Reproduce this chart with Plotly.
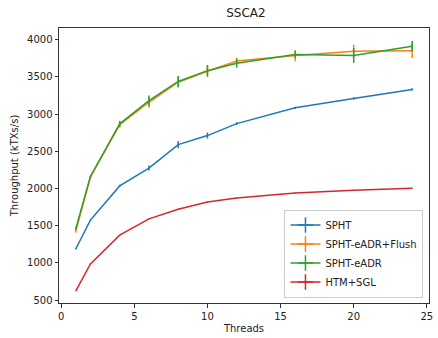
import plotly.graph_objects as go

threads = [1, 2, 4, 6, 8, 10, 12, 16, 20, 24]

spht = [1190, 1575, 2035, 2275, 2590, 2712, 2873, 3085, 3212, 3332]
spht_err = [10, 10, 15, 33, 50, 40, 20, 15, 15, 15]

spht_flush = [1428, 2158, 2860, 3160, 3430, 3578, 3715, 3788, 3845, 3854]
spht_flush_err = [20, 15, 40, 70, 70, 75, 45, 75, 90, 100]

spht_eadr = [1462, 2162, 2870, 3182, 3440, 3585, 3685, 3802, 3790, 3915]
spht_eadr_err = [15, 15, 40, 70, 75, 77, 60, 45, 100, 70]

htm_sgl = [622, 985, 1372, 1592, 1722, 1818, 1872, 1940, 1976, 2005]
htm_sgl_err = [5, 5, 5, 5, 5, 5, 5, 5, 5, 5]

series = [
    ("SPHT", spht, spht_err, "#1f77b4"),
    ("SPHT-eADR+Flush", spht_flush, spht_flush_err, "#ff7f0e"),
    ("SPHT-eADR", spht_eadr, spht_eadr_err, "#2ca02c"),
    ("HTM+SGL", htm_sgl, htm_sgl_err, "#d62728"),
]

FONT = "DejaVu Sans"
fig = go.Figure()

for name, ys, errs, color in series:
    fig.add_trace(go.Scatter(
        x=threads, y=ys, mode="lines", name=name, showlegend=False,
        line=dict(color=color, width=1.5),
        error_y=dict(type="data", array=errs, visible=True,
                     color=color, thickness=1.5, width=0),
    ))

# legend entries: line with a vertical error tick through it
for name, ys, errs, color in series:
    fig.add_trace(go.Scatter(
        x=[None], y=[None], mode="lines+markers", name=name,
        line=dict(color=color, width=1.5),
        marker=dict(symbol="cross-thin", size=11, color=color,
                    line=dict(color=color, width=1.5)),
    ))

axis_common = dict(
    showline=True, linecolor="#333333", linewidth=1, mirror=True,
    ticks="outside", ticklen=3.5, tickwidth=1, tickcolor="#333333",
    showgrid=False, zeroline=False,
    tickfont=dict(family=FONT, size=10, color="#222222"),
)

fig.update_layout(
    width=438, height=338,
    margin=dict(l=59, r=5, t=28, b=31),
    paper_bgcolor="white", plot_bgcolor="white",
    title=dict(text="SSCA2", x=0.5615, xanchor="center", y=0.962, yanchor="middle",
               font=dict(family=FONT, size=12, color="#222222")),
    xaxis=dict(range=[-0.15, 25.15], tickvals=[0, 5, 10, 15, 20, 25],
               title=dict(text="Threads", standoff=4,
                          font=dict(family=FONT, size=10, color="#222222")),
               **axis_common),
    yaxis=dict(range=[460, 4159], tickvals=[500, 1000, 1500, 2000, 2500, 3000, 3500, 4000],
               title=dict(text="Throughput (kTXs/s)", standoff=6,
                          font=dict(family=FONT, size=10, color="#222222")),
               **axis_common),
    legend=dict(x=0.985, y=0.02, xanchor="right", yanchor="bottom",
                bgcolor="rgba(255,255,255,0.8)", bordercolor="#cccccc", borderwidth=1,
                font=dict(family=FONT, size=10, color="#222222"),
                itemwidth=30, tracegroupgap=0),
)

fig.write_html("out.html")
